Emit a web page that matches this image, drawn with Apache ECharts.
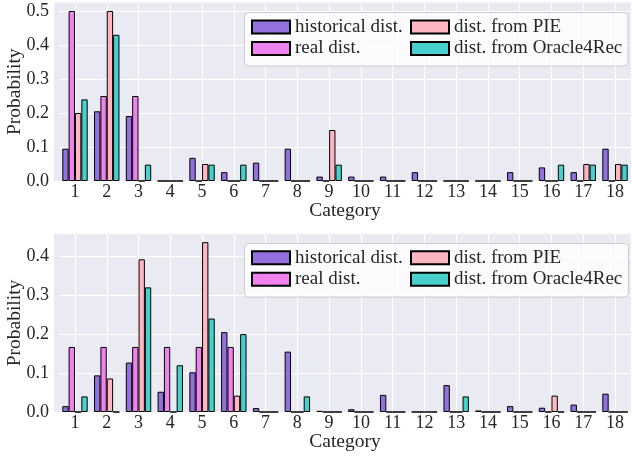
<!DOCTYPE html>
<html><head><meta charset="utf-8">
<script src="https://cdn.jsdelivr.net/npm/echarts@6/dist/echarts.min.js"></script>
<style>html,body{margin:0;padding:0;background:#fff}#c{width:632px;height:456px}</style>
</head><body><div id="c"></div>
<script>
const categories = [1,2,3,4,5,6,7,8,9,10,11,12,13,14,15,16,17,18];
const seriesNames = ['historical dist.', 'real dist.', 'dist. from PIE', 'dist. from Oracle4Rec'];
const seriesColors = ['#9370DB', '#EE82EE', '#FFB6C1', '#48D1CC'];
const yTicksTop = [0, 0.1, 0.2, 0.3, 0.4, 0.5];
const yTicksBottom = [0, 0.1, 0.2, 0.3, 0.4];

const topHistorical = [0.095,0.205,0.191,0,0.068,0.026,0.054,0.095,0.013,0.013,0.013,0.026,0,0,0.026,0.040,0.026,0.095];
const topReal       = [0.5,0.25,0.25,0,0,0,0,0,0,0,0,0,0,0,0,0,0,0];
const topPIE        = [0.2,0.5,0,0,0.05,0,0,0,0.15,0,0,0,0,0,0,0,0.05,0.05];
const topOracle     = [0.24,0.43,0.048,0,0.048,0.048,0,0,0.048,0,0,0,0,0,0,0.048,0.048,0.048];

const botHistorical = [0.015,0.094,0.127,0.052,0.102,0.205,0.010,0.155,0.003,0.007,0.044,0,0.069,0.004,0.015,0.011,0.019,0.047];
const botReal       = [0.167,0.167,0.167,0.167,0.167,0.167,0,0,0,0,0,0,0,0,0,0,0,0];
const botPIE        = [0,0.086,0.392,0,0.436,0.042,0,0,0,0,0,0,0,0,0,0.042,0,0];
const botOracle     = [0.04,0,0.32,0.12,0.24,0.2,0,0.04,0,0,0,0,0.04,0,0,0,0,0];

const FONT = 'Liberation Serif';
const TXT = '#262626';
const BG = '#EAEAF2';
const GRID_LEFT = 59.1, GRID_RIGHT = 1.1, PANEL_LEFT = 54;
const PANELS = [{top: 2.5, bottom: 275}, {top: 234, bottom: 44}];

function xCatAxis(gi) {
  return {
    type: 'category', gridIndex: gi, data: categories, boundaryGap: true,
    name: 'Category', nameLocation: 'middle', nameGap: 20, nameMoveOverlap: false,
    nameTextStyle: {fontFamily: FONT, fontSize: 19.5, color: TXT},
    axisLine: {show: false}, axisTick: {show: false},
    axisLabel: {interval: 0, fontFamily: FONT, fontSize: 18, color: TXT, margin: 2},
    splitLine: {show: false}
  };
}
function xGridAxis(gi) {
  return {
    type: 'value', gridIndex: gi, min: 0.5, max: categories.length + 0.5,
    axisLine: {show: false}, axisTick: {show: false, customValues: categories},
    axisLabel: {show: false, customValues: categories},
    splitLine: {show: true, lineStyle: {color: '#fff', width: 1}}
  };
}
function yAxisCfg(gi, max, ticks) {
  return {
    type: 'value', gridIndex: gi, min: 0, max: max,
    name: 'Probability', nameLocation: 'middle', nameGap: 34, nameMoveOverlap: false,
    nameTextStyle: {fontFamily: FONT, fontSize: 19.5, color: TXT},
    axisLine: {show: false, onZero: false}, axisTick: {show: false, customValues: ticks},
    axisLabel: {customValues: ticks, fontFamily: FONT, fontSize: 18, color: TXT, margin: 10,
      formatter: v => v.toFixed(1)},
    splitLine: {show: true, lineStyle: {color: '#fff', width: 1}}
  };
}
function legendCfg(top, names, left) {
  return {
    data: names, orient: 'vertical', left: left, top: top, z: 5,
    itemWidth: 38, itemHeight: 13, itemGap: 2.5,
    icon: 'rect', padding: 0,
    textStyle: {fontFamily: FONT, fontSize: 19, color: TXT},
    selectedMode: false
  };
}
function barSeries(gi, idx, values) {
  return {
    type: 'bar', name: seriesNames[idx], xAxisIndex: gi, yAxisIndex: gi,
    data: values,
    barWidth: 6.35, barGap: '0%',
    itemStyle: {color: seriesColors[idx], borderColor: '#000', borderWidth: 1},
    emphasis: {disabled: true}, animation: false
  };
}
const LEGEND_TOPS = [17.5, 248.2];
const LEGEND_BOXES = [{x: 244.5, y: 12.5, w: 383.5, h: 53.5}, {x: 244.5, y: 243.5, w: 384, h: 53.5}];

const chart = echarts.init(document.getElementById('c'), null, {renderer: 'canvas'});
chart.setOption({
  animation: false,
  grid: PANELS.map(p => ({left: GRID_LEFT, right: GRID_RIGHT, top: p.top, bottom: p.bottom,
    outerBoundsMode: 'none', containLabel: false,
    show: true, backgroundColor: BG, borderWidth: 0})),
  graphic: PANELS.map(p => ({type: 'rect', z: -10, silent: true,
    shape: {x: PANEL_LEFT, y: p.top, width: GRID_LEFT - PANEL_LEFT + 0.5, height: 456 - p.bottom - p.top},
    style: {fill: BG}})).concat(LEGEND_BOXES.map(b => ({type: 'rect', z: 3, silent: true,
    shape: {x: b.x, y: b.y, width: b.w, height: b.h, r: 4},
    style: {fill: 'rgba(255,255,255,0.8)', stroke: '#cccccc', lineWidth: 1}}))),
  xAxis: [xCatAxis(0), xCatAxis(1), xGridAxis(0), xGridAxis(1)],
  yAxis: [yAxisCfg(0, 0.525, yTicksTop), yAxisCfg(1, 0.457, yTicksBottom)],
  legend: [
    legendCfg(LEGEND_TOPS[0], seriesNames.slice(0, 2), 251), legendCfg(LEGEND_TOPS[0], seriesNames.slice(2), 410),
    legendCfg(LEGEND_TOPS[1], seriesNames.slice(0, 2), 251), legendCfg(LEGEND_TOPS[1], seriesNames.slice(2), 410)
  ],
  series: [
    barSeries(0, 0, topHistorical), barSeries(0, 1, topReal), barSeries(0, 2, topPIE), barSeries(0, 3, topOracle),
    barSeries(1, 0, botHistorical), barSeries(1, 1, botReal), barSeries(1, 2, botPIE), barSeries(1, 3, botOracle)
  ]
});
</script></body></html>
